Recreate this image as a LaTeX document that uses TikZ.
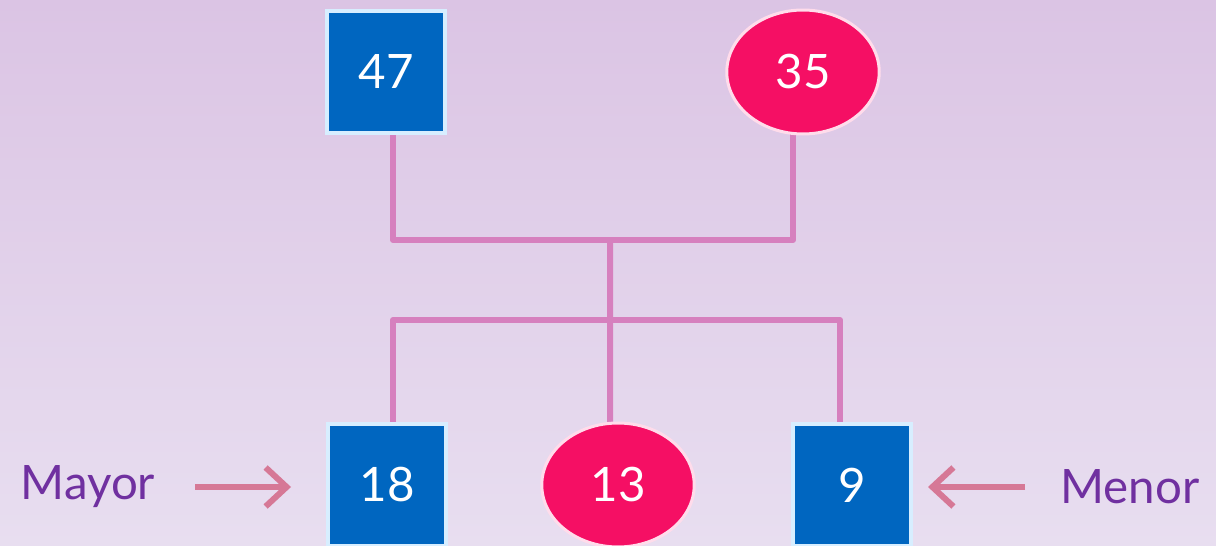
\documentclass[tikz,border=0pt]{standalone}
\usepackage{fontspec}
\setmainfont{Lato}
\usetikzlibrary{shapes.geometric,arrows.meta}
\definecolor{bgtop}{RGB}{219,196,228}
\definecolor{bgbot}{RGB}{232,222,240}
\definecolor{sqblue}{RGB}{0,102,192}
\definecolor{sqedge}{RGB}{215,238,255}
\definecolor{circred}{RGB}{245,15,100}
\definecolor{circedge}{RGB}{255,220,235}
\definecolor{connc}{RGB}{214,128,190}
\definecolor{arrc}{RGB}{214,120,150}
\definecolor{labc}{RGB}{112,48,160}
\pgfdeclarelayer{bg}
\pgfdeclarelayer{edges}
\pgfsetlayers{bg,edges,main}
\tikzset{
  sqnode/.style={rectangle, fill=sqblue, draw=sqedge, line width=0.08cm,
    minimum width=2.36cm, minimum height=2.46cm, inner sep=0pt,
    text=white, font=\fontsize{27}{30}\selectfont},
  circnode/.style={ellipse, fill=circred, draw=circedge, line width=0.06cm,
    minimum width=3.05cm, minimum height=2.48cm, inner sep=0pt,
    text=white, font=\fontsize{27}{30}\selectfont},
  conn/.style={draw=connc, line width=0.12cm, line join=round},
  arr/.style={draw=arrc, line width=0.12cm, -{Straight Barb[length=0.42cm,width=0.78cm,line width=0.12cm]}},
  lab/.style={text=labc, font=\fontsize{27}{32}\selectfont, inner sep=0pt}
}
\begin{document}
\begin{tikzpicture}[x=0.02cm,y=-0.02cm]
\useasboundingbox (0,0) rectangle (1216,546);
\clip (0,0) rectangle (1216,546);
\begin{pgfonlayer}{bg}
\shade[top color=bgtop, bottom color=bgbot] (0,0) rectangle (1216,546);
\end{pgfonlayer}
\node[sqnode] (n47) at (386,72) {47};
\node[circnode] (n35) at (803,72) {35};
\node[sqnode] (n18) at (387,485) {18};
\node[circnode] (n13) at (618,485) {13};
\node[sqnode] (n9) at (852,485) {9};
\node[lab] (mayor) at (88,487) {Mayor};
\node[lab] (menor) at (1130,487) {Menor};
\coordinate (j1) at (610,240);
\coordinate (j2) at (610,320);
\begin{pgfonlayer}{edges}
\draw[conn] ([xshift=0.14cm]n47.center) |- (j1) -| ([xshift=-0.2cm]n35.center);
\draw[conn] (j1) -- ([xshift=-0.16cm]n13.center);
\draw[conn] ([xshift=0.12cm]n18.center) |- (j2) -| ([xshift=-0.24cm]n9.center);
\end{pgfonlayer}
\draw[arr] ([xshift=0.8cm]mayor.east) -- ([xshift=-0.7cm]mayor.east -| n18.west);
\draw[arr] ([xshift=-0.7cm]menor.west) -- ([xshift=0.3cm]menor.west -| n9.east);
\end{tikzpicture}
\end{document}
